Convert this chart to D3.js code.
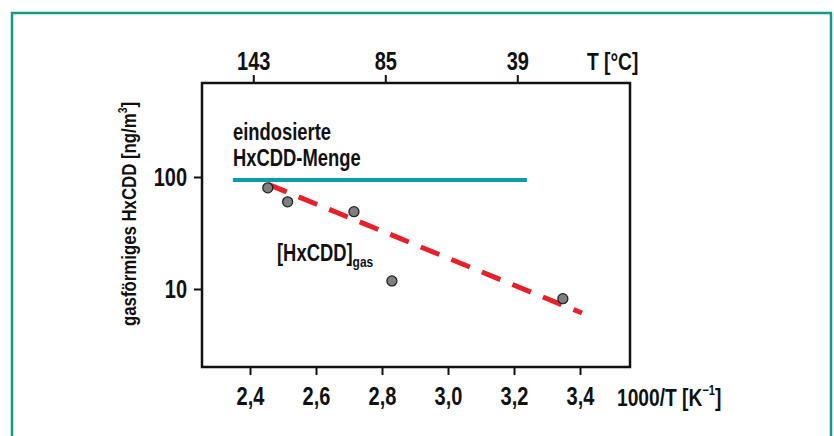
<!DOCTYPE html>
<html>
<head>
<meta charset="utf-8">
<script src="https://cdn.jsdelivr.net/npm/d3@7"></script>
<style>
  body { margin: 0; background: #fff; }
  text { font-family: "Liberation Sans", Arial, sans-serif; font-weight: bold; fill: #111; }
</style>
</head>
<body>
<div id="chart"></div>
<script>
// data
var invT = [2.454, 2.514, 2.715, 2.830, 3.348];        // 1000/T [1/K]
var hxcdd = [80, 60, 49, 11.8, 8.2];                    // ng/m3
var fitX = [2.455, 3.406];                              // dashed fit line
var fitY = [86, 6.1];
var dosedX = [2.348, 3.239];                            // eindosierte Menge
var dosedY = 94;
var bottomTicks = [2.4, 2.6, 2.8, 3.0, 3.2, 3.4];
var topTickPos = [2.41, 2.81, 3.21];
var topTickLabels = ["143", "85", "39"];
var yTicks = [10, 100];

var width = 834, height = 436;
var pLeft = 202, pRight = 630, pTop = 83, pBottom = 367;
var squeeze = 0.8; // condensed look

var svg = d3.select("#chart").append("svg")
  .attr("width", width)
  .attr("height", height);

// teal frame
svg.append("path")
  .attr("d", "M12,436 V13 H831 V436")
  .attr("fill", "none")
  .attr("stroke", "#14998c")
  .attr("stroke-width", 2.5);

var x = d3.scaleLinear()
  .domain([2.4 + (pLeft - 250) / 330, 2.4 + (pRight - 250) / 330])
  .range([pLeft, pRight]);

var y = d3.scaleLog()
  .domain([Math.pow(10, 1 - (pBottom - 289) / 112), Math.pow(10, 2 + (177 - pTop) / 112)])
  .range([pBottom, pTop]);

// axes
var xAxis = d3.axisBottom(x).tickValues(bottomTicks).tickSize(8).tickPadding(12)
  .tickFormat(function(d) { return d3.format(".1f")(d).replace(".", ","); });
var gx = svg.append("g").attr("transform", "translate(0," + pBottom + ")").call(xAxis);

var topAxis = d3.axisTop(x).tickValues(topTickPos).tickSize(8).tickPadding(5)
  .tickFormat(function(d, i) { return topTickLabels[i]; });
var gt = svg.append("g").attr("transform", "translate(0," + pTop + ")").call(topAxis);

var yAxis = d3.axisLeft(y).tickValues(yTicks).tickSize(8).tickPadding(7)
  .tickFormat(d3.format("d"));
var gy = svg.append("g").attr("transform", "translate(" + pLeft + ",0)").call(yAxis);

[gx, gt, gy].forEach(function(g) {
  g.attr("font-family", null).attr("font-size", null);
  g.select(".domain").remove();
  g.selectAll(".tick line").attr("stroke", "#111").attr("stroke-width", 2);
  g.selectAll(".tick text").attr("font-size", 25).attr("fill", "#111");
});
gx.selectAll(".tick text").attr("transform", "scale(" + squeeze + ",1)");
gt.selectAll(".tick text").attr("transform", "scale(" + squeeze + ",1)");
gy.selectAll(".tick text").attr("x", -15 / squeeze).attr("transform", "scale(" + squeeze + ",1)");

// plot box
svg.append("rect")
  .attr("x", pLeft).attr("y", pTop)
  .attr("width", pRight - pLeft).attr("height", pBottom - pTop)
  .attr("fill", "none")
  .attr("stroke", "#111")
  .attr("stroke-width", 2.5);

// dosed amount line
svg.append("line")
  .attr("x1", x(dosedX[0])).attr("x2", x(dosedX[1]))
  .attr("y1", y(dosedY)).attr("y2", y(dosedY))
  .attr("stroke", "#0b9dad")
  .attr("stroke-width", 4);

// fit line
svg.append("line")
  .attr("x1", x(fitX[0])).attr("y1", y(fitY[0]))
  .attr("x2", x(fitX[1])).attr("y2", y(fitY[1]))
  .attr("stroke", "#e8202a")
  .attr("stroke-width", 5)
  .attr("stroke-dasharray", "20,13");

// points
svg.selectAll("circle.pt")
  .data(invT)
  .enter().append("circle")
  .attr("class", "pt")
  .attr("cx", function(d) { return x(d); })
  .attr("cy", function(d, i) { return y(hxcdd[i]); })
  .attr("r", 5)
  .attr("fill", "#7f7f7f")
  .attr("stroke", "#222")
  .attr("stroke-width", 1.3);

// labels
function label(px, py, size) {
  return svg.append("text")
    .attr("transform", "translate(" + px + "," + py + ") scale(" + squeeze + ",1)")
    .attr("font-size", size);
}
label(233, 140, 23).text("eindosierte");
label(233, 166, 23).text("HxCDD-Menge");

var gasLbl = label(277, 261, 23);
gasLbl.append("tspan").text("[HxCDD]");
gasLbl.append("tspan").attr("font-size", 15).attr("dy", 6).text("gas");

label(587, 70, 24).text("T [°C]");

var xt = label(617, 406, 24);
xt.append("tspan").text("1000/T [K");
xt.append("tspan").attr("font-size", 14).attr("dy", -11).text("−1");
xt.append("tspan").attr("dy", 11).text("]");

var yt = svg.append("text")
  .attr("transform", "translate(136,214) rotate(-90) scale(" + squeeze + ",1)")
  .attr("text-anchor", "middle")
  .attr("font-size", 21);
yt.append("tspan").text("gasförmiges HxCDD [ng/m");
yt.append("tspan").attr("font-size", 13).attr("dy", -9).text("3");
yt.append("tspan").attr("dy", 9).text("]");
</script>
</body>
</html>
